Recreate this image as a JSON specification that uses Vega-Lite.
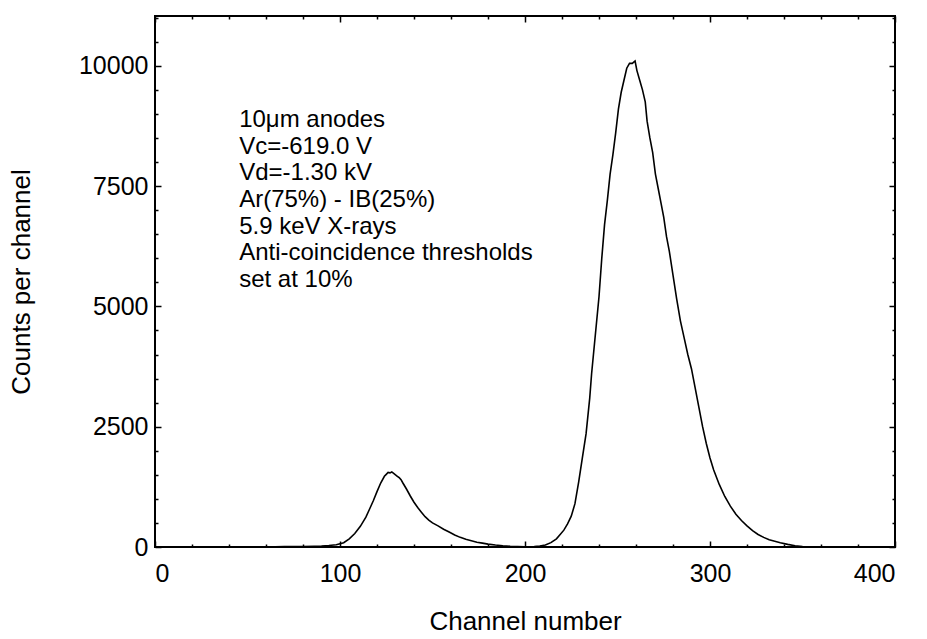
{
  "$schema": "https://vega.github.io/schema/vega-lite/v6.json",
  "width": 740,
  "height": 531,
  "autosize": "none",
  "padding": {"left": 155, "top": 16, "right": 32, "bottom": 92},
  "background": "white",
  "config": {
    "view": {"stroke": "black", "strokeWidth": 2},
    "font": "Liberation Sans",
    "axis": {"domain": false, "grid": false, "tickColor": "black", "labelColor": "black", "titleColor": "black", "labelFont": "Liberation Sans", "titleFont": "Liberation Sans", "labelFontSize": 25, "titleFontSize": 26, "titleFontWeight": "normal", "tickWidth": 1.5}
  },
  "datasets": {
    "spectrum": [
      {"ch": 0, "counts": 0}, {"ch": 10, "counts": 5}, {"ch": 20, "counts": 0}, {"ch": 30, "counts": 5},
      {"ch": 40, "counts": 0}, {"ch": 50, "counts": 5}, {"ch": 60, "counts": 0}, {"ch": 70, "counts": 10},
      {"ch": 80, "counts": 10}, {"ch": 86, "counts": 15}, {"ch": 90, "counts": 20}, {"ch": 94, "counts": 30},
      {"ch": 98, "counts": 45}, {"ch": 102, "counts": 90}, {"ch": 105, "counts": 170}, {"ch": 108, "counts": 280},
      {"ch": 111, "counts": 430}, {"ch": 114, "counts": 620}, {"ch": 116, "counts": 790}, {"ch": 118, "counts": 960},
      {"ch": 120, "counts": 1150}, {"ch": 122, "counts": 1330}, {"ch": 124, "counts": 1470}, {"ch": 125, "counts": 1510},
      {"ch": 126, "counts": 1550}, {"ch": 127, "counts": 1540}, {"ch": 128, "counts": 1560}, {"ch": 129, "counts": 1530},
      {"ch": 130, "counts": 1500}, {"ch": 131, "counts": 1470}, {"ch": 132, "counts": 1440}, {"ch": 133, "counts": 1400},
      {"ch": 134, "counts": 1330}, {"ch": 136, "counts": 1200}, {"ch": 138, "counts": 1060}, {"ch": 140, "counts": 930},
      {"ch": 142, "counts": 820}, {"ch": 144, "counts": 720}, {"ch": 146, "counts": 630}, {"ch": 148, "counts": 560},
      {"ch": 150, "counts": 500}, {"ch": 153, "counts": 440}, {"ch": 156, "counts": 370}, {"ch": 159, "counts": 310},
      {"ch": 162, "counts": 250}, {"ch": 165, "counts": 200}, {"ch": 168, "counts": 160}, {"ch": 171, "counts": 130},
      {"ch": 174, "counts": 100}, {"ch": 177, "counts": 80}, {"ch": 180, "counts": 60}, {"ch": 184, "counts": 40},
      {"ch": 188, "counts": 25}, {"ch": 192, "counts": 15}, {"ch": 196, "counts": 10}, {"ch": 200, "counts": 5},
      {"ch": 205, "counts": 10}, {"ch": 208, "counts": 20}, {"ch": 211, "counts": 40}, {"ch": 214, "counts": 90},
      {"ch": 217, "counts": 170}, {"ch": 219, "counts": 260}, {"ch": 221, "counts": 350}, {"ch": 223, "counts": 480},
      {"ch": 225, "counts": 640}, {"ch": 227, "counts": 900}, {"ch": 229, "counts": 1350}, {"ch": 231, "counts": 1850},
      {"ch": 233, "counts": 2350}, {"ch": 235, "counts": 3100}, {"ch": 236, "counts": 3600}, {"ch": 238, "counts": 4400},
      {"ch": 240, "counts": 5200}, {"ch": 241.5, "counts": 6000}, {"ch": 243, "counts": 6700}, {"ch": 244.5, "counts": 7200},
      {"ch": 246, "counts": 7750}, {"ch": 247.5, "counts": 8150}, {"ch": 249, "counts": 8600}, {"ch": 250.5, "counts": 9100},
      {"ch": 252, "counts": 9450}, {"ch": 253.5, "counts": 9700}, {"ch": 255, "counts": 9950}, {"ch": 256.5, "counts": 10050},
      {"ch": 258, "counts": 10050}, {"ch": 259.5, "counts": 10100}, {"ch": 260.5, "counts": 9900}, {"ch": 262, "counts": 9700},
      {"ch": 263.5, "counts": 9500}, {"ch": 265, "counts": 9250}, {"ch": 266, "counts": 8850}, {"ch": 267.5, "counts": 8500},
      {"ch": 269, "counts": 8200}, {"ch": 270.5, "counts": 7750}, {"ch": 272, "counts": 7450}, {"ch": 273.5, "counts": 7150},
      {"ch": 275, "counts": 6850}, {"ch": 276.5, "counts": 6450}, {"ch": 278, "counts": 6150}, {"ch": 280, "counts": 5650},
      {"ch": 282, "counts": 5150}, {"ch": 284, "counts": 4700}, {"ch": 286, "counts": 4350}, {"ch": 288, "counts": 4000},
      {"ch": 290, "counts": 3700}, {"ch": 292, "counts": 3300}, {"ch": 294, "counts": 2900}, {"ch": 296, "counts": 2500},
      {"ch": 298, "counts": 2150}, {"ch": 300, "counts": 1850}, {"ch": 302, "counts": 1600}, {"ch": 305, "counts": 1300},
      {"ch": 308, "counts": 1050}, {"ch": 311, "counts": 850}, {"ch": 314, "counts": 680}, {"ch": 317, "counts": 550},
      {"ch": 320, "counts": 440}, {"ch": 323, "counts": 340}, {"ch": 326, "counts": 260}, {"ch": 329, "counts": 200},
      {"ch": 332, "counts": 150}, {"ch": 335, "counts": 120}, {"ch": 338, "counts": 90}, {"ch": 342, "counts": 55},
      {"ch": 346, "counts": 25}, {"ch": 350, "counts": 10}, {"ch": 355, "counts": 5}, {"ch": 360, "counts": 0},
      {"ch": 370, "counts": 5}, {"ch": 380, "counts": 0}, {"ch": 390, "counts": 5}, {"ch": 400, "counts": 0}
    ],
    "note": [
      {"ch": 45.5, "counts": 8730, "label": "10μm anodes\nVc=-619.0 V\nVd=-1.30 kV\nAr(75%) - IB(25%)\n5.9 keV X-rays\nAnti-coincidence thresholds\nset at 10%"}
    ]
  },
  "layer": [
    {
      "data": {"name": "spectrum"},
      "mark": {"type": "line", "color": "black", "strokeWidth": 1.6, "clip": true},
      "encoding": {
        "x": {"field": "ch", "type": "quantitative", "scale": {"domain": [0, 400], "nice": false},
          "axis": {"orient": "bottom", "values": [0, 100, 200, 300, 400], "title": "Channel number", "tickSize": -6, "labelPadding": 20, "titlePadding": 22, "format": "d"}},
        "y": {"field": "counts", "type": "quantitative", "scale": {"domain": [0, 11035], "nice": false},
          "axis": {"orient": "left", "values": [0, 2500, 5000, 7500, 10000], "title": "Counts per channel", "tickSize": -6, "labelPadding": 13, "titlePadding": 44, "format": "d"}}
      }
    },
    {
      "data": {"name": "spectrum"},
      "mark": {"type": "line", "opacity": 0},
      "encoding": {
        "x": {"field": "ch", "type": "quantitative", "scale": {"domain": [0, 400], "nice": false},
          "axis": {"orient": "bottom", "values": [20, 40, 60, 80, 120, 140, 160, 180, 220, 240, 260, 280, 320, 340, 360, 380], "labels": false, "title": null, "tickSize": -3}},
        "y": {"field": "counts", "type": "quantitative", "scale": {"domain": [0, 11035], "nice": false},
          "axis": {"orient": "left", "values": [500, 1000, 1500, 2000, 3000, 3500, 4000, 4500, 5500, 6000, 6500, 7000, 8000, 8500, 9000, 9500, 10500, 11000], "labels": false, "title": null, "tickSize": -3}}
      }
    },
    {
      "data": {"name": "spectrum"},
      "mark": {"type": "line", "opacity": 0},
      "encoding": {
        "x": {"field": "ch", "type": "quantitative", "scale": {"domain": [0, 400], "nice": false},
          "axis": {"orient": "top", "values": [0, 100, 200, 300, 400], "labels": false, "title": null, "tickSize": -6}},
        "y": {"field": "counts", "type": "quantitative", "scale": {"domain": [0, 11035], "nice": false},
          "axis": {"orient": "right", "values": [0, 2500, 5000, 7500, 10000], "labels": false, "title": null, "tickSize": -6}}
      }
    },
    {
      "data": {"name": "spectrum"},
      "mark": {"type": "line", "opacity": 0},
      "encoding": {
        "x": {"field": "ch", "type": "quantitative", "scale": {"domain": [0, 400], "nice": false},
          "axis": {"orient": "top", "values": [20, 40, 60, 80, 120, 140, 160, 180, 220, 240, 260, 280, 320, 340, 360, 380], "labels": false, "title": null, "tickSize": -3}},
        "y": {"field": "counts", "type": "quantitative", "scale": {"domain": [0, 11035], "nice": false},
          "axis": {"orient": "right", "values": [500, 1000, 1500, 2000, 3000, 3500, 4000, 4500, 5500, 6000, 6500, 7000, 8000, 8500, 9000, 9500, 10500, 11000], "labels": false, "title": null, "tickSize": -3}}
      }
    },
    {
      "data": {"name": "note"},
      "mark": {"type": "text", "align": "left", "baseline": "alphabetic", "lineBreak": "\n", "lineHeight": 26.7, "fontSize": 24, "font": "Liberation Sans", "color": "black"},
      "encoding": {
        "x": {"field": "ch", "type": "quantitative", "scale": {"domain": [0, 400], "nice": false}, "axis": null},
        "y": {"field": "counts", "type": "quantitative", "scale": {"domain": [0, 11035], "nice": false}, "axis": null},
        "text": {"field": "label"}
      }
    }
  ],
  "resolve": {"axis": {"x": "independent", "y": "independent"}}
}
